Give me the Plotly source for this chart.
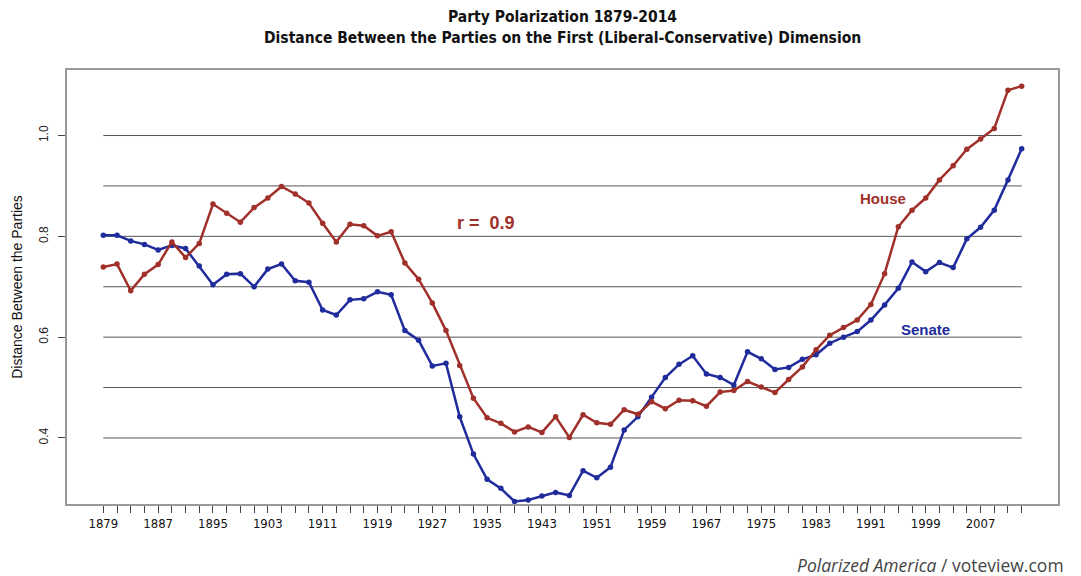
import plotly.graph_objs as go

# Congress start years, one point per Congress
years = list(range(1879, 2014, 2))

house = [0.739, 0.745, 0.692, 0.725, 0.744, 0.789, 0.758, 0.786, 0.864, 0.846,
         0.828, 0.857, 0.876, 0.899, 0.884, 0.866, 0.826, 0.789, 0.824, 0.821,
         0.801, 0.809, 0.747, 0.715, 0.668, 0.613, 0.544, 0.479, 0.440, 0.429,
         0.412, 0.422, 0.411, 0.442, 0.401, 0.446, 0.430, 0.427, 0.456, 0.447,
         0.472, 0.458, 0.475, 0.474, 0.463, 0.491, 0.494, 0.512, 0.501, 0.490,
         0.516, 0.541, 0.575, 0.604, 0.619, 0.634, 0.665, 0.726, 0.819, 0.852,
         0.876, 0.912, 0.940, 0.973, 0.993, 1.014, 1.090, 1.098]

senate = [0.802, 0.802, 0.791, 0.784, 0.773, 0.782, 0.776, 0.741, 0.704, 0.725,
          0.726, 0.700, 0.735, 0.745, 0.712, 0.709, 0.654, 0.644, 0.674, 0.676,
          0.690, 0.684, 0.613, 0.594, 0.543, 0.548, 0.442, 0.368, 0.318, 0.300,
          0.274, 0.277, 0.285, 0.292, 0.286, 0.335, 0.321, 0.342, 0.416, 0.442,
          0.481, 0.520, 0.546, 0.563, 0.527, 0.520, 0.505, 0.571, 0.557, 0.536,
          0.540, 0.556, 0.565, 0.588, 0.600, 0.611, 0.634, 0.664, 0.697, 0.749,
          0.730, 0.748, 0.738, 0.795, 0.818, 0.852, 0.912, 0.974]

x_labels = list(range(1879, 2008, 8))
y_ticks = [0.4, 0.6, 0.8, 1.0]
grid_levels = [0.4, 0.5, 0.6, 0.7, 0.8, 0.9, 1.0]

RED = '#A0302A'
BLUE = '#202C9C'
NARROW = 'DejaVu Sans Condensed, Liberation Sans Narrow, Arial Narrow, sans-serif'
ARIAL = 'Liberation Sans, Arial, sans-serif'

fig = go.Figure()

# horizontal reference lines, only across the data span
for lvl in grid_levels:
    fig.add_shape(type='line', xref='x', yref='y',
                  x0=years[0], x1=years[-1], y0=lvl, y1=lvl,
                  line=dict(color='#555555', width=1), layer='below')

fig.add_trace(go.Scatter(
    x=years, y=senate, mode='lines+markers', name='Senate',
    line=dict(color=BLUE, width=2.5), marker=dict(color=BLUE, size=5.5)
))
fig.add_trace(go.Scatter(
    x=years, y=house, mode='lines+markers', name='House',
    line=dict(color=RED, width=2.5), marker=dict(color=RED, size=5.5)
))

fig.add_annotation(x=1992.8, y=0.876, text='<b>House</b>', showarrow=False,
                   font=dict(family=ARIAL, size=15, color=RED))
fig.add_annotation(x=1998.9, y=0.616, text='<b>Senate</b>', showarrow=False,
                   font=dict(family=ARIAL, size=15, color=BLUE))
fig.add_annotation(x=1934.8, y=0.827, text='<b>r =  0.9</b>', showarrow=False,
                   font=dict(family=ARIAL, size=18, color=RED))

# two-line heading as paper annotations
fig.add_annotation(xref='paper', yref='paper', x=0.5, y=1.122,
                   yanchor='middle', showarrow=False,
                   text='<b>Party Polarization 1879-2014</b>',
                   font=dict(family=NARROW, size=15.5, color='#111111'))
fig.add_annotation(xref='paper', yref='paper', x=0.5, y=1.074,
                   yanchor='middle', showarrow=False,
                   text='<b>Distance Between the Parties on the First '
                        '(Liberal-Conservative) Dimension</b>',
                   font=dict(family=NARROW, size=15.5, color='#111111'))

fig.add_annotation(xref='paper', yref='paper', x=1.008, y=-0.141,
                   xanchor='right', yanchor='middle', showarrow=False,
                   text='<i>Polarized America</i> / voteview.com',
                   font=dict(family='Open Sans', size=17.5, color='#444444'))

# page body adds an 8px offset, so the figure is 8px smaller than the window
fig.update_layout(
    template='plotly_white',
    width=1073, height=568,
    showlegend=False,
    plot_bgcolor='white',
    paper_bgcolor='white',
    margin=dict(l=59, r=23, t=62, b=72, autoexpand=False)
)

fig.update_xaxes(
    range=[1873.7, 2018.3],
    automargin=False,
    tickvals=years,
    ticktext=[str(y) if y in x_labels else '' for y in years],
    ticks='outside', ticklen=7, tickcolor='#444444',
    showgrid=False, zeroline=False,
    showline=True, linecolor='#999999', linewidth=1.5, mirror=True,
    tickfont=dict(family=NARROW, size=13, color='#111111'),
    tickprefix='<b>', ticksuffix='</b>'
)

fig.update_yaxes(
    range=[0.269, 1.130],
    automargin=False,
    tickvals=y_ticks,
    ticktext=['0.4', '0.6', '0.8', '1.0'],
    tickangle=-90,
    ticks='outside', ticklen=7, tickcolor='#444444',
    ticklabelstandoff=5,
    showgrid=False, zeroline=False,
    showline=True, linecolor='#999999', linewidth=1.5, mirror=True,
    tickfont=dict(family=ARIAL, size=12, color='#222222'),
    title=dict(text='Distance Between the Parties', standoff=12,
               font=dict(family=ARIAL, size=14, color='#111111'))
)

fig.write_html("out.html")
